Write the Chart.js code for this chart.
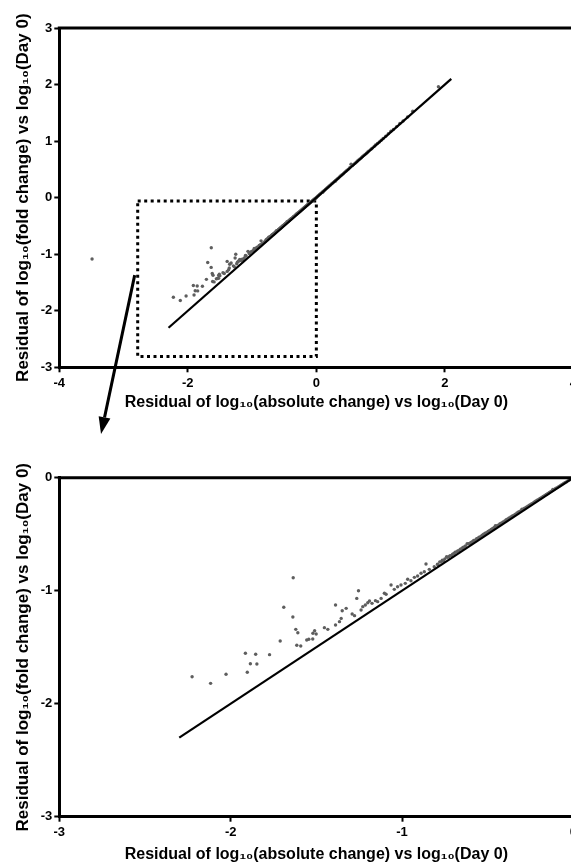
<!DOCTYPE html>
<html>
<head>
<meta charset="utf-8">
<script src="https://cdn.jsdelivr.net/npm/chart.js@4.4.1/dist/chart.umd.min.js"></script>
<style>
    html, body { margin: 0; padding: 0; background: #fff; overflow: hidden; }
    #wrap { position: relative; width: 571px; height: 867px; overflow: hidden; }
    #wrap canvas { position: absolute; left: 0; }
    #topChart { top: 0; }
    #zoomChart { top: 440px; }
</style>
</head>
<body>
<div id="wrap">
    <canvas id="topChart" width="580" height="440"></canvas>
    <canvas id="zoomChart" width="580" height="427"></canvas>
</div>
<script>
// Values (residuals)
const pointX = [
    -3.49, -2.225, -2.117, -2.027, -1.914, -1.854, -1.885, -1.847, -1.903, -1.773,
    -1.711, -1.69, -1.637, -1.635, -1.62, -1.608, -1.614, -1.591, -1.556, -1.544,
    -1.52, -1.51, -1.501, -1.521, -1.453, -1.433, -1.388, -1.388, -1.365, -1.355,
    -1.349, -1.326, -1.291, -1.277, -1.264, -1.254, -1.239, -1.229, -1.214, -1.2,
    -1.19, -1.175, -1.155, -1.142, -1.122, -1.103, -1.093, -1.064, -1.045, -1.026,
    -1.006, -0.981, -0.967, -0.948, -0.928, -0.909, -0.889, -0.87, -0.86, -0.841,
    -0.812, -0.793, -0.78, -0.765, -0.75, -0.74, -0.735, -0.72, -0.705, -0.69,
    -0.675, -0.66, -0.645, -0.63, -0.62, -0.612, -0.598, -0.582, -0.565, -0.55,
    -0.532, -0.515, -0.498, -0.48, -0.462, -0.455, -0.445, -0.428, -0.41, -0.392,
    -0.375, -0.356, -0.338, -0.32, -0.302, -0.3, -0.285, -0.266, -0.248, -0.23,
    -0.212, -0.195, -0.176, -0.158, -0.14, -0.122, -0.12, -0.104, -0.086, -0.068,
    -0.05, -0.032, -0.015, 0.02, 0.05, 0.08, 0.11, 0.14, 0.17, 0.2,
    0.24, 0.28, 0.32, 0.36, 0.4, 0.44, 0.48, 0.52, 0.54, 0.56,
    0.6, 0.64, 0.68, 0.72, 0.76, 0.8, 0.85, 0.9, 0.95, 1.01,
    1.08, 1.16, 1.25, 1.35, 1.5, 1.9,
    -0.79, -0.772, -0.758, -0.727, -0.712, -0.697, -0.682, -0.668, -0.652, -0.637,
    -0.605, -0.59, -0.574, -0.557, -0.54, -0.524, -0.507, -0.49, -0.471, -0.436,
    -0.419, -0.4, -0.383, -0.365, -0.347, -0.329, -0.311, -0.293, -0.275, -0.257,
    -0.239, -0.221, -0.203, -0.185, -0.167, -0.149, -0.131, -0.113, -0.095, -0.077,
    -0.059, -0.041, -0.024, -0.007, 0.005, 0.035, 0.065, 0.095, 0.1, 0.125,
    0.155, 0.185, 0.22, 0.26, 0.3, 0.3, 0.34, 0.38, 0.42, 0.46,
    0.5, 0.58, 0.62, 0.66, 0.7, 0.74, 0.78, 0.82, 0.87, 0.92,
    0.98, 1.04, 1.12, 1.2, 1.3, 1.42
];
const pointY = [
    -1.085, -1.761, -1.82, -1.74, -1.554, -1.563, -1.646, -1.649, -1.722, -1.566,
    -1.445, -1.147, -1.233, -0.885, -1.342, -1.372, -1.483, -1.49, -1.436, -1.43,
    -1.377, -1.354, -1.383, -1.427, -1.327, -1.342, -1.127, -1.304, -1.274, -1.245,
    -1.177, -1.156, -1.206, -1.221, -1.068, -1.0, -1.171, -1.141, -1.127, -1.106,
    -1.091, -1.112, -1.088, -1.097, -1.068, -1.023, -1.032, -0.95, -0.988, -0.965,
    -0.95, -0.935, -0.899, -0.912, -0.882, -0.87, -0.846, -0.832, -0.764, -0.811,
    -0.788, -0.766, -0.745, -0.73, -0.718, -0.7, -0.705, -0.69, -0.678, -0.66,
    -0.648, -0.632, -0.618, -0.603, -0.585, -0.585, -0.574, -0.556, -0.54, -0.527,
    -0.508, -0.492, -0.476, -0.457, -0.441, -0.425, -0.425, -0.408, -0.391, -0.372,
    -0.357, -0.338, -0.322, -0.303, -0.287, -0.278, -0.27, -0.252, -0.235, -0.217,
    -0.2, -0.184, -0.165, -0.148, -0.131, -0.113, -0.105, -0.096, -0.079, -0.062,
    -0.045, -0.028, -0.012, 0.025, 0.055, 0.085, 0.115, 0.146, 0.175, 0.206,
    0.245, 0.286, 0.325, 0.367, 0.405, 0.447, 0.487, 0.53, 0.59, 0.566,
    0.606, 0.647, 0.686, 0.727, 0.766, 0.806, 0.857, 0.906, 0.957, 1.015,
    1.086, 1.175, 1.256, 1.355, 1.53, 1.96,
    -0.77, -0.745, -0.735, -0.7, -0.688, -0.67, -0.656, -0.645, -0.628, -0.612,
    -0.582, -0.566, -0.552, -0.536, -0.52, -0.5, -0.487, -0.468, -0.45, -0.418,
    -0.4, -0.383, -0.366, -0.348, -0.331, -0.313, -0.296, -0.278, -0.262, -0.244,
    -0.227, -0.209, -0.192, -0.175, -0.157, -0.14, -0.122, -0.105, -0.088, -0.071,
    -0.054, -0.037, -0.021, -0.005, 0.008, 0.04, 0.068, 0.1, 0.094, 0.128,
    0.16, 0.19, 0.224, 0.264, 0.305, 0.294, 0.343, 0.386, 0.424, 0.466,
    0.505, 0.586, 0.625, 0.668, 0.705, 0.748, 0.784, 0.828, 0.876, 0.93,
    0.985, 1.046, 1.13, 1.205, 1.31, 1.428
];

// identity line y = x
const lineX = [-2.3, 2.1];
const lineY = [-2.3, 2.1];

// dotted box marking the zoomed region
const boxX = [-2.78, 0, 0, -2.78, -2.78];
const boxY = [-0.06, -0.06, -2.81, -2.81, -0.06];

const topXTicks = [-4, -2, 0, 2, 4];
const topYTicks = [-3, -2, -1, 0, 1, 2, 3];
const zoomXTicks = [-3, -2, -1, 0];
const zoomYTicks = [-3, -2, -1, 0];

const xTitle = 'Residual of log\u2081\u2080(absolute change) vs log\u2081\u2080(Day 0)';
const yTitle = 'Residual of log\u2081\u2080(fold change) vs log\u2081\u2080(Day 0)';

const FONT = "'Liberation Sans', Arial, sans-serif";

function toXY(xs, ys) {
    return xs.map((x, i) => ({ x: x, y: ys[i] }));
}

// Top and right edges of the frame
const framePlugin = {
    id: 'frame',
    afterDatasetsDraw(chart) {
        const { ctx, chartArea: a } = chart;
        ctx.save();
        ctx.strokeStyle = '#000';
        ctx.lineWidth = 3;
        ctx.beginPath();
        ctx.moveTo(a.left - 1.5, a.top);
        ctx.lineTo(a.right, a.top);
        ctx.lineTo(a.right, a.bottom);
        ctx.stroke();
        ctx.restore();
    }
};

// Arrow from the dotted box down to the zoomed chart
const arrowPlugin = {
    id: 'zoomArrow',
    afterDraw(chart) {
        const { ctx, scales } = chart;
        const x0 = scales.x.getPixelForValue(boxX[0]) - 3;
        const y0 = scales.y.getPixelForValue(-1.37);
        const x1 = 101, y1 = 434;
        const ang = Math.atan2(y1 - y0, x1 - x0);
        const headLen = 17, headW = 6;
        const bx = x1 - headLen * Math.cos(ang);
        const by = y1 - headLen * Math.sin(ang);

        ctx.save();
        ctx.strokeStyle = '#000';
        ctx.fillStyle = '#000';
        ctx.lineWidth = 3;
        ctx.beginPath();
        ctx.moveTo(x0, y0);
        ctx.lineTo(bx, by);
        ctx.stroke();
        ctx.beginPath();
        ctx.moveTo(x1, y1);
        ctx.lineTo(bx + headW * Math.sin(ang), by - headW * Math.cos(ang));
        ctx.lineTo(bx - headW * Math.sin(ang), by + headW * Math.cos(ang));
        ctx.closePath();
        ctx.fill();
        ctx.restore();
    }
};

function axisConfig(ticks, title, isX, fitSize, titleSize, titlePad) {
    return {
        type: 'linear',
        min: ticks[0],
        max: ticks[ticks.length - 1],
        afterBuildTicks: s => { s.ticks = ticks.map(v => ({ value: v })); },
        afterFit: s => {
            if (isX) s.height = fitSize;
            else s.width = fitSize;
        },
        border: { display: true, color: '#000', width: 3 },
        grid: {
            display: true,
            drawOnChartArea: false,
            drawTicks: true,
            tickLength: 5,
            tickWidth: 2,
            tickColor: '#000'
        },
        ticks: {
            color: '#000',
            padding: isX ? 3 : 2,
            font: { family: FONT, size: 13, weight: 'bold' }
        },
        title: {
            display: true,
            text: title,
            color: '#000',
            padding: titlePad,
            font: { family: FONT, size: titleSize, weight: 'bold' }
        }
    };
}

function datasets(withBox) {
    const list = [{
        label: 'y = x',
        data: toXY(lineX, lineY),
        showLine: true,
        borderColor: '#000',
        borderWidth: 2.2,
        pointRadius: 0
    }, {
        label: 'Residuals',
        data: toXY(pointX, pointY),
        pointRadius: 1.7,
        pointBorderWidth: 0,
        backgroundColor: '#5e5e5e'
    }];
    if (withBox) {
        list.push({
            label: 'Zoom region',
            data: toXY(boxX, boxY),
            showLine: true,
            borderColor: '#000',
            borderWidth: 3,
            borderDash: [3, 3.5],
            pointRadius: 0
        });
    }
    return list;
}

function baseOptions(padding, xAxis, yAxis) {
    return {
        responsive: false,
        animation: false,
        layout: { padding: padding },
        plugins: { legend: { display: false }, tooltip: { enabled: false } },
        scales: { x: xAxis, y: yAxis }
    };
}

function createTopChart() {
    const ctx = document.getElementById('topChart');
    window.topChart = new Chart(ctx, {
        type: 'scatter',
        data: { datasets: datasets(true) },
        options: baseOptions(
            { left: 0, top: 28, right: 5.5, bottom: 28 },
            axisConfig(topXTicks, xTitle, true, 44.7, 16, { top: 0, bottom: 0 }),
            axisConfig(topYTicks, yTitle, false, 59.3, 17, { top: 13, bottom: 0 })
        ),
        plugins: [framePlugin, arrowPlugin]
    });
}

function createZoomChart() {
    const ctx = document.getElementById('zoomChart');
    window.zoomChart = new Chart(ctx, {
        type: 'scatter',
        data: { datasets: datasets(false) },
        options: baseOptions(
            { left: 0, top: 37.7, right: 5.6, bottom: 3 },
            axisConfig(zoomXTicks, xTitle, true, 47.3, 16, { top: 0, bottom: 0 }),
            axisConfig(zoomYTicks, yTitle, false, 59.3, 17, { top: 13, bottom: 0 })
        ),
        plugins: [framePlugin]
    });
}

document.addEventListener('DOMContentLoaded', function() {
    createTopChart();
    createZoomChart();
});
</script>
</body>
</html>
